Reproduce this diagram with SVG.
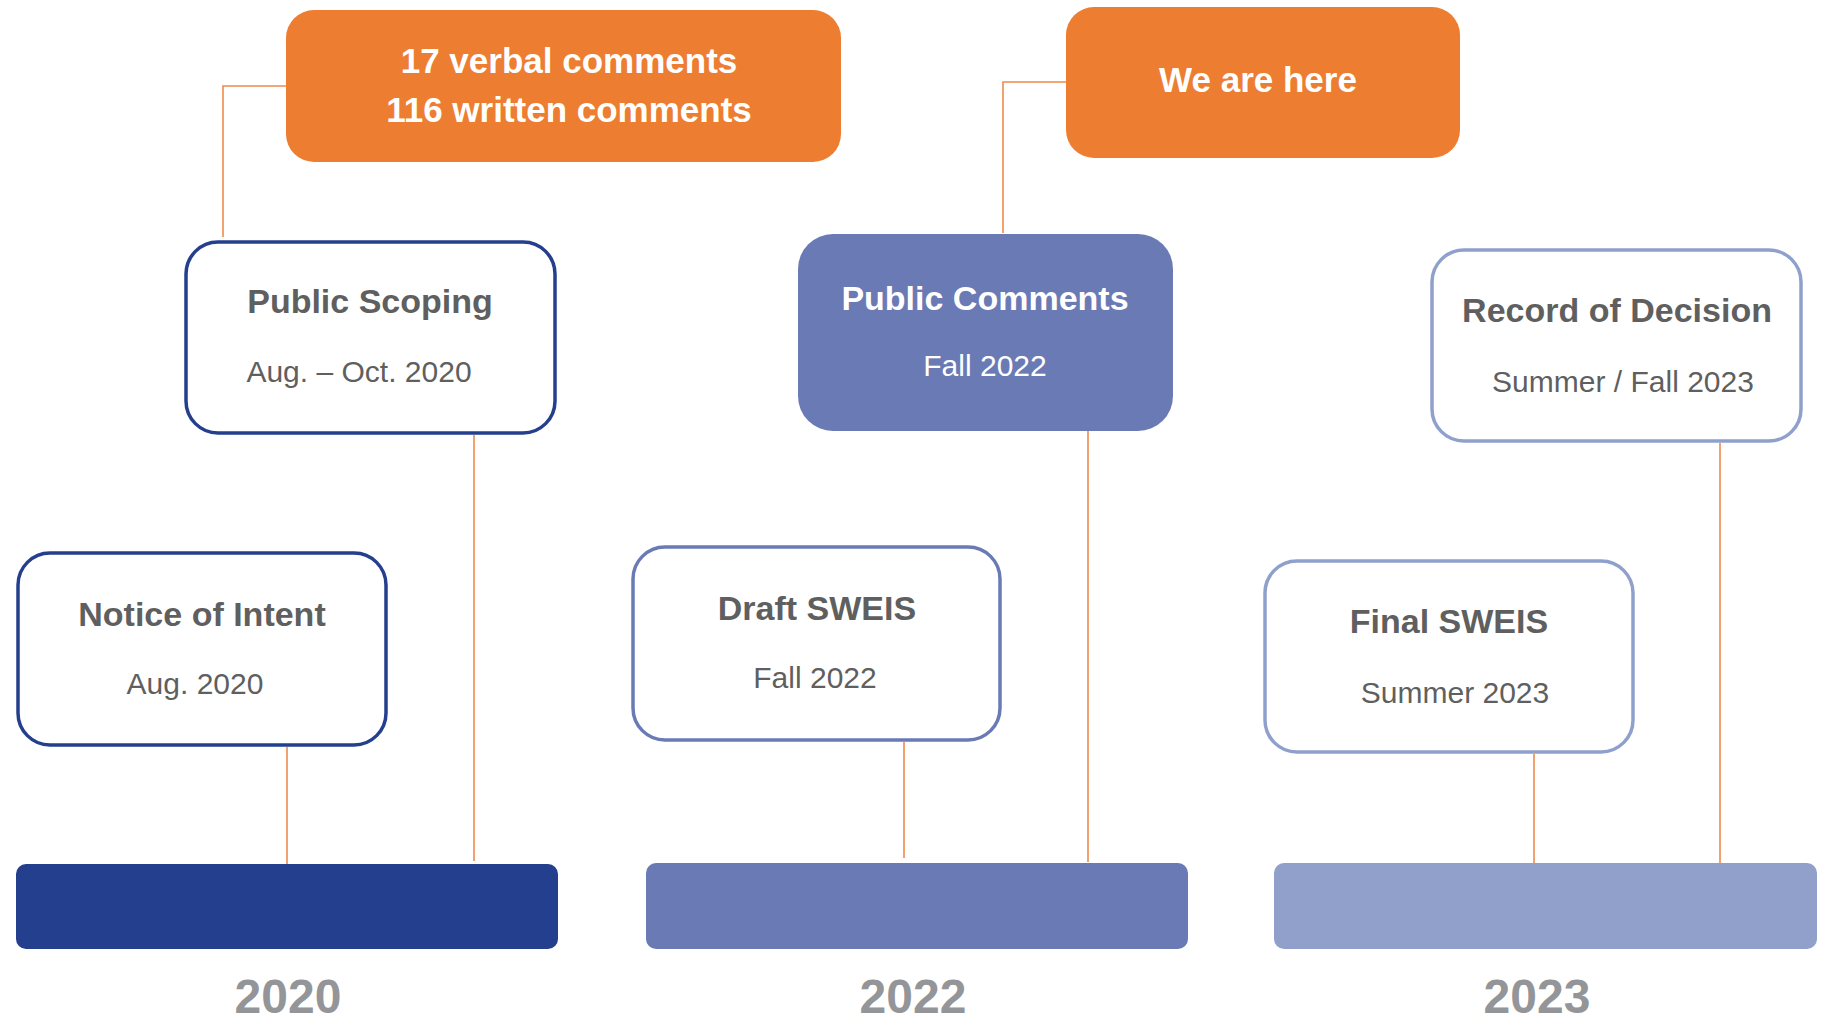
<svg xmlns="http://www.w3.org/2000/svg" width="1823" height="1024" viewBox="0 0 1823 1024">
<style>
.conn{fill:none;stroke:#F08A4B;stroke-width:1.6}
.orange{fill:#ED7D31}
.box{fill:#FFFFFF;stroke-width:3.5}
.t{font-family:"Liberation Sans",Arial,sans-serif;text-anchor:middle}
.title{font-size:34px;font-weight:bold;fill:#5F5F5F}
.sub{font-size:30px;fill:#5F5F5F}
.wt{font-size:35px;font-weight:bold;fill:#FFFFFF}
.year{font-size:48px;font-weight:bold;fill:#939598}
</style>
<rect width="1823" height="1024" fill="#FFFFFF"/>
<g id="connectors">
<polyline class="conn" points="286,86 223,86 223,237"/>
<polyline class="conn" points="1066,82 1003,82 1003,233"/>
<line class="conn" x1="474" y1="435" x2="474" y2="861"/>
<line class="conn" x1="287" y1="747" x2="287" y2="864"/>
<line class="conn" x1="904" y1="742" x2="904" y2="858"/>
<line class="conn" x1="1088" y1="431" x2="1088" y2="862"/>
<line class="conn" x1="1534" y1="754" x2="1534" y2="870"/>
<line class="conn" x1="1720" y1="443" x2="1720" y2="869"/>
</g>
<g id="comments-count">
<rect class="orange" x="286" y="10" width="555" height="152" rx="28"/>
<text class="t wt" x="569" y="73">17 verbal comments</text>
<text class="t wt" x="569" y="122">116 written comments</text>
</g>
<g id="we-are-here">
<rect class="orange" x="1066" y="7" width="394" height="151" rx="28"/>
<text class="t wt" x="1258" y="92">We are here</text>
</g>
<g id="public-scoping">
<rect class="box" x="186" y="242" width="369" height="191" rx="32" stroke="#253F8F"/>
<text class="t title" x="370" y="313">Public Scoping</text>
<text class="t sub" x="359" y="382">Aug. – Oct. 2020</text>
</g>
<g id="public-comments">
<rect x="798" y="234" width="375" height="197" rx="35" fill="#6A7AB5"/>
<text class="t title" x="985" y="310" style="fill:#FFFFFF">Public Comments</text>
<text class="t sub" x="985" y="376" style="fill:#FFFFFF">Fall 2022</text>
</g>
<g id="record-of-decision">
<rect class="box" x="1432" y="250" width="369" height="191" rx="32" stroke="#8FA0CC"/>
<text class="t title" x="1617" y="322">Record of Decision</text>
<text class="t sub" x="1623" y="392">Summer / Fall 2023</text>
</g>
<g id="notice-of-intent">
<rect class="box" x="18" y="553" width="368" height="192" rx="32" stroke="#253F8F"/>
<text class="t title" x="202" y="626">Notice of Intent</text>
<text class="t sub" x="195" y="694">Aug. 2020</text>
</g>
<g id="draft-sweis">
<rect class="box" x="633" y="547" width="367" height="193" rx="32" stroke="#6A7AB5"/>
<text class="t title" x="817" y="620">Draft SWEIS</text>
<text class="t sub" x="815" y="688">Fall 2022</text>
</g>
<g id="final-sweis">
<rect class="box" x="1265" y="561" width="368" height="191" rx="32" stroke="#8FA0CC"/>
<text class="t title" x="1449" y="633">Final SWEIS</text>
<text class="t sub" x="1455" y="703">Summer 2023</text>
</g>
<g id="year-2020">
<rect x="16" y="864" width="542" height="85" rx="10" fill="#253F8F"/>
<text class="t year" x="288" y="1013">2020</text>
</g>
<g id="year-2022">
<rect x="646" y="863" width="542" height="86" rx="10" fill="#6A7AB5"/>
<text class="t year" x="913" y="1013">2022</text>
</g>
<g id="year-2023">
<rect x="1274" y="863" width="543" height="86" rx="10" fill="#91A0CA"/>
<text class="t year" x="1537" y="1013">2023</text>
</g>
</svg>
